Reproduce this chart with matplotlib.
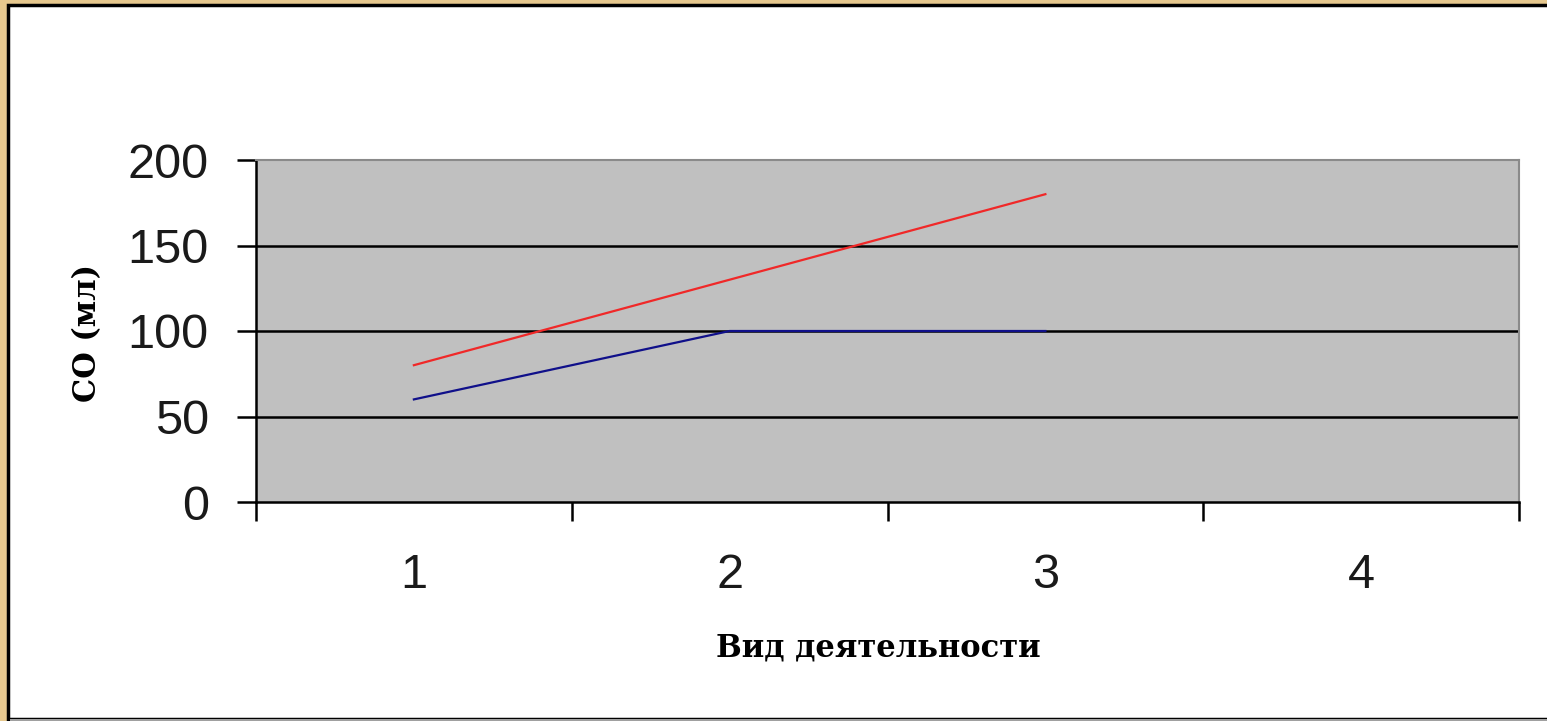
"""
plot.py
stroke volume by activity type, Excel-style line chart
"""
import numpy as np
import matplotlib
matplotlib.use("Agg")
import matplotlib.pyplot as plt
from matplotlib.patches import Rectangle

# data
categories = [1, 2, 3, 4]
cat_labels = ["1", "2", "3", "4"]
red_vals = [80, 130, 180, np.nan]
blue_vals = [60, 100, 100, np.nan]
y_ticks = [0, 50, 100, 150, 200]

W, H = 1547, 721
fig = plt.figure(figsize=(W / 100, H / 100), dpi=100)
fig.patch.set_facecolor("#E6C88E")

# white slide panel with black edge (runs off the right side)
fig.patches.append(Rectangle((8 / W, 2 / H), 1600 / W, 714 / H,
                             transform=fig.transFigure, facecolor="white",
                             edgecolor="black", linewidth=2.5, zorder=-2))
fig.patches.append(Rectangle((10 / W, 0), 1600 / W, 2.5 / H,
                             transform=fig.transFigure, facecolor="#A0A0A0",
                             edgecolor="none", zorder=-1))

ax = fig.add_axes([256 / W, 1 - 502 / H, 1263 / W, 342 / H])
ax.set_facecolor("#C0C0C0")

ax.plot(categories, red_vals, color="#F02828", linewidth=1.6, zorder=3)
ax.plot(categories, blue_vals, color="#10108A", linewidth=1.6, zorder=3)

ax.set_xlim(0.5, 4.5)
ax.set_ylim(0, 200)

# gridlines
for v in y_ticks[1:-1]:
    ax.axhline(v, color="black", linewidth=1.8, zorder=2)

# spines
ax.spines["left"].set_color("black")
ax.spines["left"].set_linewidth(1.8)
ax.spines["bottom"].set_color("black")
ax.spines["bottom"].set_linewidth(1.8)
ax.spines["top"].set_color("#8A8A8A")
ax.spines["top"].set_linewidth(1.5)
ax.spines["right"].set_color("#8A8A8A")
ax.spines["right"].set_linewidth(1.5)

tick_font = {"family": "Liberation Sans", "size": 35, "color": "#1A1A1A"}
ax.set_yticks(y_ticks)
ax.set_yticklabels([str(v) for v in y_ticks], fontdict=tick_font)
ax.tick_params(axis="y", direction="out", length=14, width=1.8, pad=20)

# category ticks at boundaries, labels at centres
ax.set_xticks(np.arange(0.5, 4.6, 1.0))
ax.set_xticklabels([""] * 5)
ax.tick_params(axis="x", which="major", direction="out", length=14, width=1.8)
ax.set_xticks(categories, minor=True)
ax.set_xticklabels(cat_labels, minor=True, fontdict=tick_font)
ax.tick_params(axis="x", which="minor", length=0, pad=37)

lab_font = {"family": "DejaVu Serif", "size": 22, "weight": "bold"}
ax.set_xlabel("Вид деятельности", fontdict=lab_font)
ax.set_ylabel("СО (мл)", fontdict=lab_font)
ax.xaxis.set_label_coords(0.493, -0.383)
ax.yaxis.set_label_coords(-0.121, 0.494)

plt.savefig("out.png", dpi=100, facecolor=fig.get_facecolor())
